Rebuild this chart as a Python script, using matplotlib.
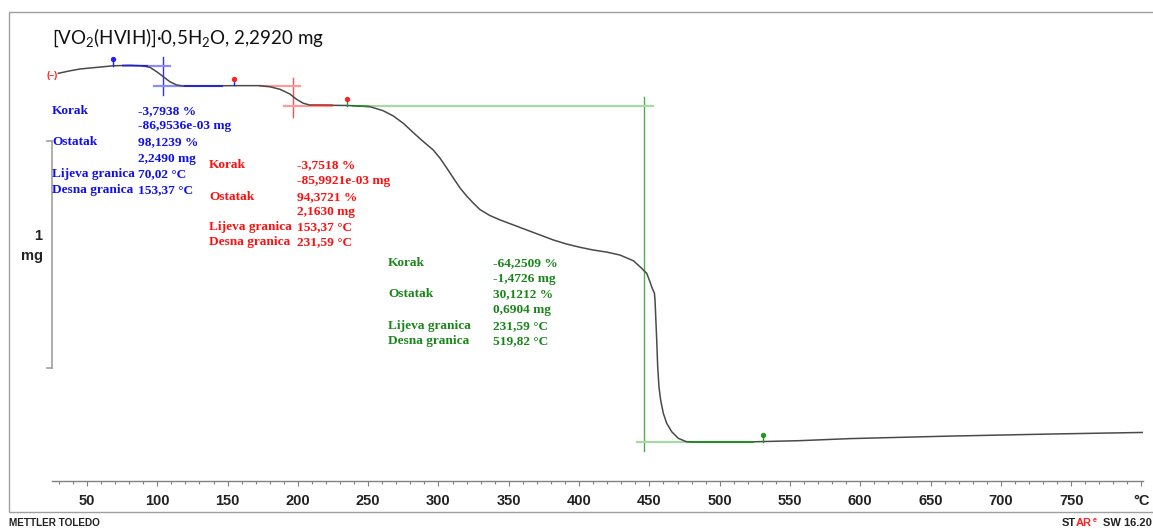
import numpy as np
import matplotlib
matplotlib.use("Agg")
import matplotlib.pyplot as plt
from matplotlib.patches import Rectangle

plt.rcParams['mathtext.fontset'] = 'custom'
plt.rcParams['mathtext.rm'] = 'Lato'

# ---------------- data ----------------
T_C = [29.6, 37.9, 45.0, 56.9, 68.7, 80.6, 90.0, 94.8, 99.6, 104.3, 109.0, 113.8,
       118.5, 154.6, 173.0, 180.2, 187.3, 194.4, 199.1, 203.8, 208.6, 234.9,
       239.4, 251.3, 260.7, 267.9, 275.0, 282.1, 289.2, 296.3, 301.1, 305.8,
       310.5, 315.3, 320.1, 324.7, 329.5, 336.6, 343.7, 353.2, 362.7, 372.2,
       381.7, 391.2, 400.6, 410.1, 419.6, 429.1, 438.6, 443.3, 448.1, 450.4,
       451.6, 453.6, 454.0, 454.7, 455.2, 455.9, 456.8, 458.0, 459.9, 462.3,
       465.9, 470.6, 476.5, 523.7, 557.1, 592.7, 663.8, 734.9, 801.0]
mass_mg = [2.304, 2.315, 2.323, 2.330, 2.337, 2.339, 2.337, 2.330, 2.311, 2.289, 2.267, 2.253,
           2.248, 2.250, 2.250, 2.245, 2.234, 2.213, 2.190, 2.173, 2.165, 2.163,
           2.162, 2.158, 2.140, 2.117, 2.085, 2.044, 2.005, 1.968, 1.932, 1.890,
           1.846, 1.802, 1.766, 1.736, 1.707, 1.681, 1.662, 1.640, 1.618, 1.596,
           1.574, 1.556, 1.542, 1.530, 1.521, 1.508, 1.483, 1.457, 1.428, 1.391,
           1.369, 1.340, 1.311, 1.209, 1.136, 1.019, 0.931, 0.873, 0.815, 0.771,
           0.734, 0.705, 0.690, 0.690, 0.695, 0.704, 0.715, 0.724, 0.731]

x_major = [50, 100, 150, 200, 250, 300, 350, 400, 450, 500, 550, 600, 650, 700, 750, 800]
x_major_labels = ['50', '100', '150', '200', '250', '300', '350', '400', '450',
                  '500', '550', '600', '650', '700', '750', '°C']

# step evaluation results (text blocks)
blue_labels = ['Korak', '', 'Ostatak', '', 'Lijeva granica', 'Desna granica']
blue_values = ['-3,7938 %', '-86,9536e-03 mg', '98,1239 %', '2,2490 mg', '70,02 °C', '153,37 °C']
red_labels = ['Korak', '', 'Ostatak', '', 'Lijeva granica', 'Desna granica']
red_values = ['-3,7518 %', '-85,9921e-03 mg', '94,3721 %', '2,1630 mg', '153,37 °C', '231,59 °C']
green_labels = ['Korak', '', 'Ostatak', '', 'Lijeva granica', 'Desna granica']
green_values = ['-64,2509 %', '-1,4726 mg', '30,1212 %', '0,6904 mg', '231,59 °C', '519,82 °C']

# step construction lines
blue_step = dict(T=103.9, vlo=2.209, vhi=2.376, up=2.337, up_T=(89.8, 109.0),
                 lo=2.250, lo_T=(97.7, 146.0))
red_step = dict(T=196.5, vlo=2.113, vhi=2.283, up=2.250, up_T=(173.0, 201.5),
                lo=2.162, lo_T=(190.1, 224.0))
green_step = dict(T=446.4, vlo=0.650, vhi=2.200, up=2.162, up_T=(239.2, 452.6),
                  lo=0.6904, lo_T=(441.2, 524.0))

# markers (limits)
marker_T = [68.5, 154.6, 234.9, 530.8]
marker_m = [2.337, 2.251, 2.163, 0.690]
marker_stem = ['#2020ff', '#2020ff', '#1f9a1f', '#1f9a1f']
marker_head = ['#2020ff', '#ff2020', '#ff2020', '#1f9a1f']

# ---------------- figure ----------------
W, H = 1153, 529
fig = plt.figure(figsize=(W / 100, H / 100), dpi=100)


def fx(px):
    return px / W


def fy(py):
    return 1 - py / H


ax = fig.add_axes([fx(52), fy(481), (1143 - 52) / W, (481 - 12) / H])
ax.set_xlim(25.11, 801.07)
ax.set_ylim(0.5183, 2.5726)
ax.patch.set_alpha(0)
for s in ['left', 'right', 'top']:
    ax.spines[s].set_visible(False)
ax.spines['bottom'].set_color('#808080')
ax.spines['bottom'].set_linewidth(1.0)
ax.set_yticks([])
ax.set_xticks(x_major)
ax.set_xticklabels(x_major_labels)
ax.set_xticks([t for t in range(30, 800, 10) if t % 50 != 0], minor=True)
ax.tick_params(axis='x', which='major', direction='out', length=3.6, width=0.8,
               color='#808080', pad=6.0, labelsize=10.5)
ax.tick_params(axis='x', which='minor', direction='out', length=1.8, width=0.8,
               color='#808080')
for lab in ax.get_xticklabels():
    lab.set_fontfamily('Liberation Sans')
    lab.set_fontweight('bold')
    lab.set_color('#222222')

# construction lines
for st, cv, ch in [(blue_step, '#3030ff', '#8c8cff'),
                   (red_step, '#ff5050', '#ff9a9a'),
                   (green_step, '#4caf4c', '#a8d8a8')]:
    ax.plot([st['T'], st['T']], [st['vlo'], st['vhi']], color=cv, lw=1.0, zorder=2)
    ax.plot(list(st['up_T']), [st['up'], st['up']], color=ch, lw=1.6, zorder=2)
    ax.plot(list(st['lo_T']), [st['lo'], st['lo']], color=ch, lw=1.6, zorder=2)

# curve
ax.plot(T_C, mass_mg, color='#4a4a4a', lw=1.1, zorder=3, solid_joinstyle='round')

# darker evaluation segments along plateaus
ax.plot([120.0, 146.0], [2.250, 2.250], color='#2020d0', lw=1.2, zorder=4)
ax.plot([75.6, 92.7], [2.338, 2.337], color='#2020d0', lw=1.2, zorder=4)
ax.plot([210.0, 224.0], [2.164, 2.164], color='#d04040', lw=1.2, zorder=4)
ax.plot([240.0, 250.0], [2.162, 2.159], color='#2a8a2a', lw=1.2, zorder=4)
ax.plot([479.0, 524.0], [0.690, 0.690], color='#2a8a2a', lw=1.4, zorder=4)

# markers
for t, m, cs, chd in zip(marker_T, marker_m, marker_stem, marker_head):
    ax.plot([t, t], [m, m + 0.028], color=cs, lw=1.0, zorder=5)
    ax.plot([t], [m + 0.028], marker='o', ms=2.8, color=chd, mec=chd, zorder=6)

# start bracket marker
ax.text(25.1, 2.296, '(–)', color='#ff2020', fontsize=6.5, fontweight='bold',
        ha='center', va='center', family='Liberation Sans', clip_on=False)

# scale bar 1 mg
ax.plot([25.3, 25.3], [1.013, 2.008], color='#a0a0a0', lw=1.2, clip_on=False)
ax.plot([21.2, 25.3], [2.008, 2.008], color='#a0a0a0', lw=1.2, clip_on=False)
ax.plot([21.2, 25.3], [1.013, 1.013], color='#a0a0a0', lw=1.2, clip_on=False)
fig.text(fx(42.5), fy(236), '1', ha='right', va='center', fontsize=10.5,
         fontweight='bold', family='Liberation Sans', color='#222222')
fig.text(fx(42.5), fy(256), 'mg', ha='right', va='center', fontsize=10.5,
         fontweight='bold', family='Liberation Sans', color='#222222')


def block(labels, values, xl, xv, ys, color):
    for lab, val, y in zip(labels, values, ys):
        if lab:
            fig.text(fx(xl), fy(y), lab, ha='left', va='center', fontsize=9.6,
                     fontweight='bold', family='Liberation Serif', color=color)
        fig.text(fx(xv), fy(y), val, ha='left', va='center', fontsize=9.6,
                 fontweight='bold', family='Liberation Serif', color=color)


block(blue_labels, blue_values, 52, 138, [111, 126, 142, 159, 174, 190], '#1010ee')
block(red_labels, red_values, 209, 297, [165, 181, 197, 212, 227, 242], '#ff1010')
block(green_labels, green_values, 388, 493, [263, 279, 294, 310, 326, 341], '#1a861a')

# title
fig.text(fx(52), fy(38), r'[VO$_\mathrm{2}$(HVIH)]·0,5H$_\mathrm{2}$O, 2,2920 mg',
         ha='left', va='center', fontsize=13.5, family='Lato', color='#111111')

# frame
fig.patches.append(Rectangle((fx(9), fy(512)), (1170 - 9) / W, 500 / H,
                             transform=fig.transFigure, fill=False,
                             ec='#a0a0a0', lw=1.0, clip_on=False))

# footer
fig.text(fx(9), fy(523), 'METTLER TOLEDO', ha='left', va='center', fontsize=7.2,
         fontweight='bold', family='Liberation Sans', color='#222222')
fig.text(fx(1062), fy(523), 'ST', ha='left', va='center', fontsize=8,
         fontweight='bold', family='Liberation Sans', color='#222222')
fig.text(fx(1076), fy(523), 'AR', ha='left', va='center', fontsize=8,
         fontweight='bold', family='Liberation Sans', color='#ff2020')
fig.text(fx(1093), fy(520), 'e', ha='left', va='center', fontsize=5,
         fontweight='bold', family='Liberation Sans', color='#ff2020')
fig.text(fx(1103), fy(523), 'SW 16.20', ha='left', va='center', fontsize=8,
         fontweight='bold', family='Liberation Sans', color='#222222')

fig.savefig('out.png', dpi=100)
